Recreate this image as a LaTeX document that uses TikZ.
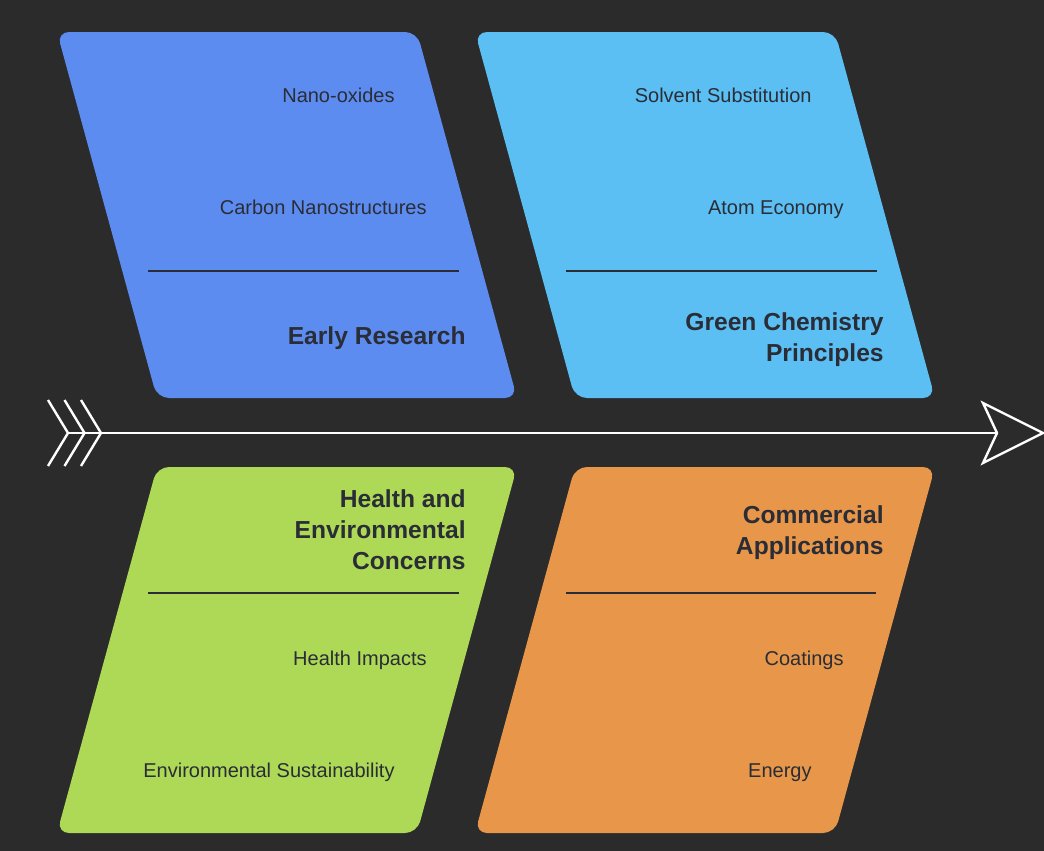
\documentclass[tikz,border=0pt]{standalone}
\usepackage{fontspec}
\setmainfont{Liberation Sans}

\definecolor{bgGray}{HTML}{2B2B2B}
\definecolor{inkDark}{HTML}{2A2D35}
\definecolor{panelBlue}{HTML}{5D8CF0}
\definecolor{panelSky}{HTML}{5BBFF4}
\definecolor{panelGreen}{HTML}{AED957}
\definecolor{panelOrange}{HTML}{E8974A}

\tikzset{panel:style/.style={rounded corners=6pt}}
\tikzset{item:style/.style={anchor=east,inner sep=0pt,text=inkDark,text height=7.2pt,text depth=0pt,font=\fontsize{10}{12}\selectfont}}
\tikzset{title:style/.style={anchor=east,inner sep=0pt,text=inkDark,align=right,text depth=0pt,font=\fontsize{12.3}{15.5}\selectfont\bfseries}}
\tikzset{divider:style/.style={draw=inkDark,line width=1pt}}
\tikzset{spine:style/.style={draw=white,line width=1.2pt}}
\def\myWidth{360}
\def\myHeight{366}
\def\mySlant{100}

\begin{document}
\begin{tikzpicture}[x=0.5pt,y=-0.5pt]

	\fill[bgGray] (0,0) rectangle (1044,851);
	\useasboundingbox (0,0) rectangle (1044,851);

	% panels above the spine lean right, panels below lean left
	\path[panel:style,fill=panelBlue]
		(57,32) -- ++(\myWidth,0) -- ++(\mySlant,\myHeight) -- ++(-\myWidth,0) -- cycle;
	\path[panel:style,fill=panelSky]
		(475,32) -- ++(\myWidth,0) -- ++(\mySlant,\myHeight) -- ++(-\myWidth,0) -- cycle;
	\path[panel:style,fill=panelGreen]
		(157,467) -- ++(\myWidth,0) -- ++(-\mySlant,\myHeight) -- ++(-\myWidth,0) -- cycle;
	\path[panel:style,fill=panelOrange]
		(575,467) -- ++(\myWidth,0) -- ++(-\mySlant,\myHeight) -- ++(-\myWidth,0) -- cycle;

	% early research
	\node[item:style] (nano) at (395,95) {Nano-oxides};
	\node[item:style] (carbon) at (427,207) {Carbon Nanostructures};
	\path (148,271) coordinate (erl) (459,271) coordinate (err);
	\path[divider:style] (erl) -- (err);
	\node[title:style] (early) at (466,336) {Early Research};

	% green chemistry
	\node[item:style] (solvent) at (812,95) {Solvent Substitution};
	\node[item:style] (atom) at (844,207) {Atom Economy};
	\path (566,271) coordinate (gcl) (877,271) coordinate (gcr);
	\path[divider:style] (gcl) -- (gcr);
	\node[title:style] (green) at (884,337) {Green Chemistry\\Principles};

	% health and environment
	\node[title:style] (health) at (466,530) {Health and\\Environmental\\Concerns};
	\path (148,593) coordinate (hel) (459,593) coordinate (her);
	\path[divider:style] (hel) -- (her);
	\node[item:style] (impacts) at (427,658) {Health Impacts};
	\node[item:style] (sustain) at (395,770) {Environmental Sustainability};

	% commercial
	\node[title:style] (commercial) at (884,530) {Commercial\\Applications};
	\path (566,593) coordinate (cal) (876,593) coordinate (car);
	\path[divider:style] (cal) -- (car);
	\node[item:style] (coatings) at (844,658) {Coatings};
	\node[item:style] (energy) at (812,770) {Energy};

	% spine
	\path (68,433) coordinate (tail) (997,433) coordinate (notch);
	\path[spine:style] (tail) -- (notch);
	\foreach \dx in {0,16.5,33}
		\path[spine:style,line join=miter] (48+\dx,400) -- (68+\dx,433) -- (48+\dx,466);
	\path[spine:style,fill=bgGray,line join=miter]
		(notch) -- (983,403) -- (1043,433) -- (983,463) -- cycle;

\end{tikzpicture}
\end{document}
